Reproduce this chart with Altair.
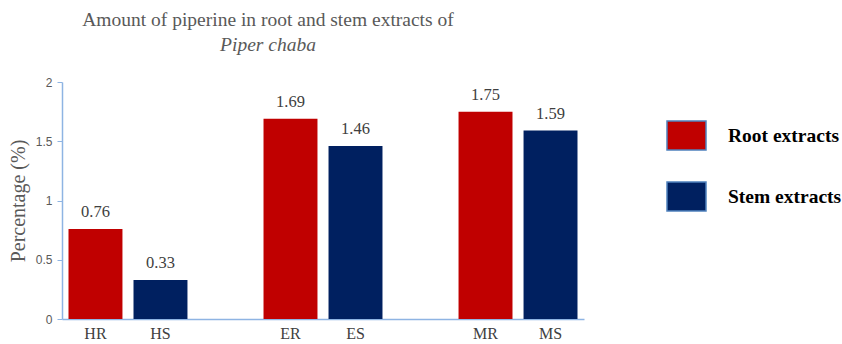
import altair as alt
import pandas as pd

# ---- data ----
samples = ["HR", "HS", "ER", "ES", "MR", "MS"]
percentages = [0.76, 0.33, 1.69, 1.46, 1.75, 1.59]
extract_types = ["Root extracts", "Stem extracts", "Root extracts",
                 "Stem extracts", "Root extracts", "Stem extracts"]
x_order = ["HR", "HS", " ", "ER", "ES", "  ", "MR", "MS"]
legend_names = ["Root extracts", "Stem extracts"]
legend_colors = ["#C00000", "#002060"]
y_ticks = [0, 0.5, 1, 1.5, 2]

df = pd.DataFrame({"sample": samples, "pct": percentages, "type": extract_types})

AXIS_BLUE = "#8EB4E3"
SERIF = "Liberation Serif"

base = alt.Chart(df).encode(
    x=alt.X(
        "sample:N",
        scale=alt.Scale(domain=x_order, paddingInner=0.17, paddingOuter=0.1),
        axis=alt.Axis(
            title=None, ticks=False, labelAngle=0, domainColor=AXIS_BLUE,
            domainWidth=1.5, labelFont=SERIF, labelFontSize=16,
            labelColor="#404040", labelPadding=6,
        ),
    ),
    y=alt.Y(
        "pct:Q",
        scale=alt.Scale(domain=[0, 2]),
        axis=alt.Axis(
            title="Percentage (%)", values=y_ticks, format="~g", grid=False,
            domainColor=AXIS_BLUE, domainWidth=1.5, tickColor=AXIS_BLUE,
            tickSize=5, labelFont="Liberation Sans", labelFontSize=12,
            labelColor="#595959", labelPadding=5, titleFont=SERIF,
            titleFontSize=20, titleFontWeight="normal", titleColor="#595959",
            titlePadding=7,
        ),
    ),
)

bars = base.mark_bar().encode(
    color=alt.Color(
        "type:N",
        scale=alt.Scale(domain=legend_names, range=legend_colors),
        legend=alt.Legend(
            title=None, orient="none", legendX=604, legendY=33,
            symbolType="M-1,-0.744H1V0.744H-1Z", symbolSize=1521,
            symbolStrokeColor="#4F81BD", symbolStrokeWidth=1.5,
            symbolOpacity=1, labelFont=SERIF, labelFontSize=19.5,
            labelFontWeight="bold", labelColor="#000000", labelOffset=21,
            rowPadding=22,
        ),
    )
)

labels = base.mark_text(
    font=SERIF, fontSize=16.5, color="#404040", baseline="alphabetic", dy=-12
).encode(text=alt.Text("pct:Q", format=".2f"))

chart = (
    (bars + labels)
    .properties(
        width=522,
        height=237,
        title=alt.TitleParams(
            text="Amount of piperine in root and stem extracts of",
            subtitle="Piper chaba",
            font=SERIF, fontSize=19.5, fontWeight="normal", color="#595959",
            subtitleFont=SERIF, subtitleFontSize=19.5,
            subtitleFontStyle="italic", subtitleColor="#595959",
            subtitlePadding=5, anchor="middle", dx=-55, offset=21,
        ),
        autosize=alt.AutoSizeParams(type="none"),
        padding={"left": 62, "top": 82, "right": 258, "bottom": 25},
    )
    .configure_view(stroke=None)
)

chart.save("out.html", embed_options={"renderer": "svg", "actions": False})
